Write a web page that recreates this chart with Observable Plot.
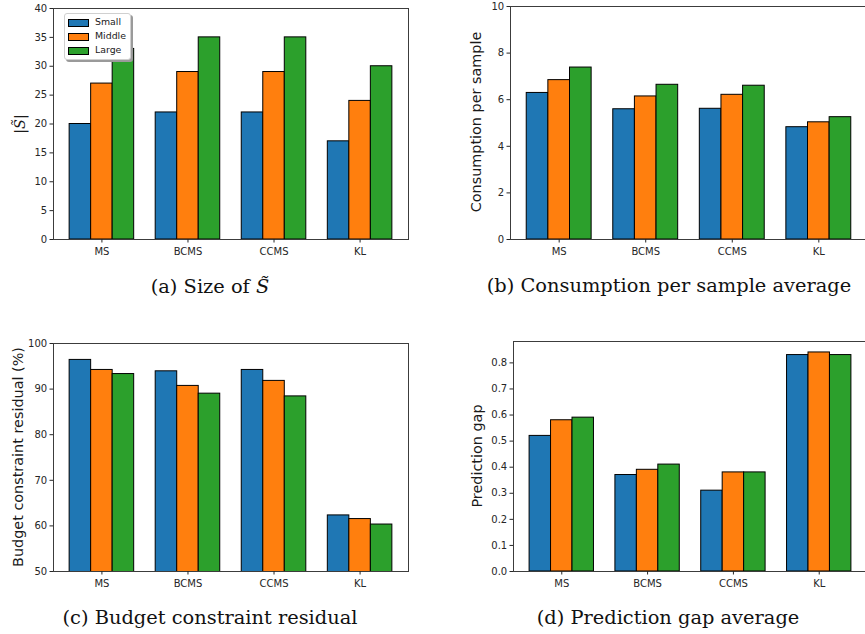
<!DOCTYPE html>
<html>
<head>
<meta charset="utf-8">
<script src="https://cdn.jsdelivr.net/npm/d3@7"></script>
<script src="https://cdn.jsdelivr.net/npm/@observablehq/plot@0.6"></script>
<style>
  html, body { margin: 0; padding: 0; background: #fff; overflow: hidden; }
  #fig { position: relative; width: 865px; height: 634px; overflow: hidden; background: #fff; }
  .panel { position: absolute; }
  .panel svg { max-width: none !important; display: block; }
  .cap { position: absolute; font-family: "DejaVu Serif", serif; font-size: 19.4px; color: #111; white-space: nowrap; transform: translate(-50%, -50%); line-height: 1; }
  .ylab { position: absolute; font-family: "DejaVu Sans", sans-serif; font-size: 14.4px; color: #1a1a1a; white-space: nowrap; transform: translate(-50%, -50%) rotate(-90deg); line-height: 1; }
  .legend { position: absolute; left: 64px; top: 13px; width: 65px; height: 45px; background: #fff; border: 1px solid #d0d0d0; border-radius: 3px; box-shadow: 2px 2px 0 #9a9a9a; font-family: "DejaVu Sans", sans-serif; font-size: 9.4px; color: #1a1a1a; }
  .legend .row { position: absolute; left: 0; height: 10px; }
  .legend .sw { position: absolute; left: 3px; top: 1.5px; width: 19px; height: 6px; border: 1px solid #000; }
  .legend .tx { position: absolute; left: 30px; top: -1px; white-space: nowrap; line-height: 11px; }
</style>
</head>
<body>
<div id="fig"></div>
<script>
// ---- data ----
const categories = ["MS", "BCMS", "CCMS", "KL"];
const series = ["Small", "Middle", "Large"];
const seriesColors = ["#1f77b4", "#ff7f0e", "#2ca02c"];

// values indexed [series][category]
const sizeValues = [[20, 22, 22, 17], [27, 29, 29, 24], [33, 35, 35, 30]];
const consumptionValues = [[6.29, 5.59, 5.61, 4.82], [6.84, 6.14, 6.21, 5.03], [7.38, 6.64, 6.60, 5.25]];
const residualValues = [[96.4, 93.9, 94.2, 62.3], [94.2, 90.7, 91.8, 61.5], [93.3, 89.0, 88.4, 60.3]];
const gapValues = [[0.52, 0.37, 0.31, 0.83], [0.58, 0.39, 0.38, 0.84], [0.59, 0.41, 0.38, 0.83]];

const sizeTicks = [0, 5, 10, 15, 20, 25, 30, 35, 40];
const consumptionTicks = [0, 2, 4, 6, 8, 10];
const residualTicks = [50, 60, 70, 80, 90, 100];
const gapTicks = [0.0, 0.1, 0.2, 0.3, 0.4, 0.5, 0.6, 0.7, 0.8];

const captions = ["(a) Size of ", "(b) Consumption per sample average", "(c) Budget constraint residual", "(d) Prediction gap average"];
const yLabels = ["|S̃|", "Consumption per sample", "Budget constraint residual (%)", "Prediction gap"];

// ---- helpers ----
const groupWidth = 0.75, nSeries = series.length, bw = groupWidth / nSeries;
function makeTable(values) {
  const rows = [];
  categories.forEach((c, i) => series.forEach((s, j) => {
    rows.push({category: c, series: s, pos: i + (j - (nSeries - 1) / 2) * bw, value: values[j][i]});
  }));
  return rows;
}

function chart(o) {
  const data = makeTable(o.values);
  const pad = 0.05 * (categories.length - 1 + groupWidth);
  return Plot.plot({
    width: o.width, height: o.height,
    marginLeft: o.ml, marginRight: o.mr, marginTop: o.mt, marginBottom: o.mb,
    style: {fontFamily: "DejaVu Sans, sans-serif", fontSize: "10px", color: "#262626", background: "transparent", overflow: "visible"},
    x: {type: "linear", domain: [-groupWidth / 2 - pad, categories.length - 1 + groupWidth / 2 + pad]},
    y: {domain: o.yDomain},
    color: {domain: series, range: seriesColors},
    marks: [
      Plot.rectY(data, {
        x1: d => d.pos - bw / 2, x2: d => d.pos + bw / 2,
        y1: 0, y2: "value", fill: "series",
        stroke: "#000", strokeWidth: 1, clip: true
      }),
      Plot.frame({stroke: "#3c3c3c", strokeWidth: 1}),
      Plot.axisX({ticks: categories.map((_, i) => i), tickFormat: i => categories[i], tickSize: 3.5, tickPadding: 4.5, label: null}),
      Plot.axisY({ticks: o.yTicks, tickFormat: o.yFormat, tickSize: 3.5, tickPadding: 2.8, label: null})
    ]
  });
}

const fig = document.getElementById("fig");
function addPanel(left, top, plot, w, h) {
  const d = document.createElement("div");
  d.className = "panel";
  d.style.left = left + "px"; d.style.top = top + "px";
  d.style.width = w + "px"; d.style.height = h + "px";
  d.appendChild(plot);
  fig.appendChild(d);
}
function addText(cls, x, y, html) {
  const d = document.createElement("div");
  d.className = cls;
  d.style.left = x + "px"; d.style.top = y + "px";
  d.innerHTML = html;
  fig.appendChild(d);
}

// (a)
addPanel(0, 0, chart({values: sizeValues, yDomain: [0, 40], yTicks: sizeTicks, yFormat: d3.format("d"),
  width: 418, height: 269, ml: 53, mr: 10, mt: 8, mb: 30}), 418, 269);
// (b)
addPanel(440, 0, chart({values: consumptionValues, yDomain: [0, 10], yTicks: consumptionTicks, yFormat: d3.format("d"),
  width: 437, height: 269, ml: 70, mr: 10, mt: 6, mb: 30}), 437, 269);
// (c)
addPanel(0, 330, chart({values: residualValues, yDomain: [50, 100], yTicks: residualTicks, yFormat: d3.format("d"),
  width: 418, height: 271, ml: 53, mr: 10, mt: 13, mb: 30}), 418, 271);
// (d)
addPanel(440, 330, chart({values: gapValues, yDomain: [0, 0.882], yTicks: gapTicks, yFormat: d3.format(".1f"),
  width: 437, height: 271, ml: 73, mr: 10, mt: 11, mb: 30}), 437, 271);

// y labels
addText("ylab", 20, 124, '|<i style="font-family:DejaVu Serif">S̃</i>|');
addText("ylab", 476, 122, yLabels[1]);
addText("ylab", 17.5, 457, yLabels[2]);
addText("ylab", 477, 456, yLabels[3]);

// captions
addText("cap", 210, 287, captions[0] + '<i>S̃</i>');
addText("cap", 669, 286, captions[1]);
addText("cap", 210, 618, captions[2]);
addText("cap", 668, 618, captions[3]);

// legend (panel a)
const lg = document.createElement("div");
lg.className = "legend";
series.forEach((s, j) => {
  const r = document.createElement("div");
  r.className = "row";
  r.style.top = (3 + j * 14) + "px";
  r.innerHTML = `<div class="sw" style="background:${seriesColors[j]}"></div><div class="tx">${s}</div>`;
  lg.appendChild(r);
});
fig.appendChild(lg);
</script>
</body>
</html>
